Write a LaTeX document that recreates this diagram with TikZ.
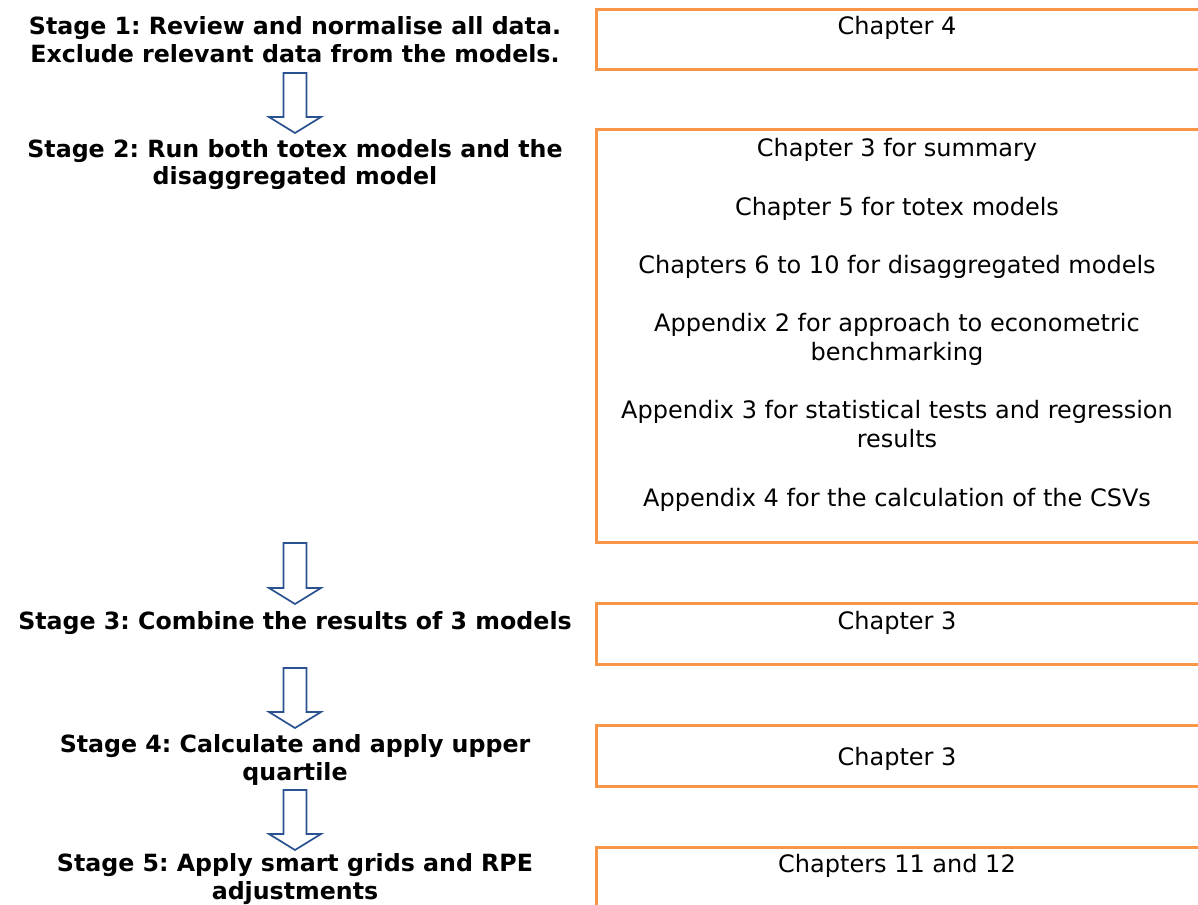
\documentclass[tikz,border=0pt]{standalone}
\usepackage{fontspec}
\setmainfont{DejaVu Sans}
\definecolor{boxorange}{HTML}{F79646}
\definecolor{arrowblue}{HTML}{2B5290}
\begin{document}
\frenchspacing
\begin{tikzpicture}[x=1pt,y=-1pt,
  stagetext/.style={align=center,inner sep=0pt,anchor=base,font=\fontsize{23.7}{28}\selectfont\bfseries\frenchspacing},
  chaptext/.style={align=center,inner sep=0pt,anchor=base,font=\fontsize{24}{29}\selectfont\frenchspacing},
  chapbox/.style={draw=boxorange,line width=3pt,rectangle,inner sep=0pt},
  blockarrow/.style={draw=arrowblue,line width=1.7pt,fill=white,line join=miter}
]
\useasboundingbox (0,0) rectangle (1198,904);
\clip (0,0) rectangle (1198,904);

% chapter boxes (right edge beyond the page)
\draw[chapbox] (596,10) rectangle (1215,70);
\draw[chapbox] (596,130) rectangle (1215,542);
\draw[chapbox] (596,603) rectangle (1215,664);
\draw[chapbox] (596,725) rectangle (1215,786);
\draw[chapbox] (596,847) rectangle (1215,930);

% stage texts (anchor = baseline of the last line)
\node[stagetext] (s1) at (295,63) {Stage 1: Review and normalise all data.\\Exclude relevant data from the models.};
\node[stagetext] (s2) at (295,185) {Stage 2: Run both totex models and the\\disaggregated model};
\node[stagetext] (s3) at (295,629) {Stage 3: Combine the results of 3 models};
\node[stagetext] (s4) at (295,780) {Stage 4: Calculate and apply upper\\quartile};
\node[stagetext] (s5) at (295,899) {Stage 5: Apply smart grids and RPE\\adjustments};

% chapter texts
\node[chaptext] (c1) at (897,35) {Chapter 4};
\node[chaptext] (c2a) at (897,157) {Chapter 3 for summary};
\node[chaptext] (c2b) at (897,215) {Chapter 5 for totex models};
\node[chaptext] (c2c) at (897,273) {Chapters 6 to 10 for disaggregated models};
\node[chaptext] (c2d) at (897,360) {Appendix 2 for approach to econometric\\benchmarking};
\node[chaptext] (c2e) at (897,447) {Appendix 3 for statistical tests and regression\\results};
\node[chaptext] (c2f) at (897,506) {Appendix 4 for the calculation of the CSVs};
\node[chaptext] (c3) at (897,629) {Chapter 3};
\node[chaptext] (c4) at (897,765) {Chapter 3};
\node[chaptext] (c5) at (897,872) {Chapters 11 and 12};

% block arrows between stages
\newcommand{\stagearrow}[3]{%
  \draw[blockarrow] (#1-11.5,#2) -- (#1+11.5,#2) -- (#1+11.5,#3-16) -- (#1+26,#3-16)
    -- (#1,#3) -- (#1-26,#3-16) -- (#1-11.5,#3-16) -- cycle;}
\stagearrow{295}{73}{133}
\stagearrow{295}{543}{604}
\stagearrow{295}{668}{728}
\stagearrow{295}{790}{850}
\end{tikzpicture}
\end{document}
